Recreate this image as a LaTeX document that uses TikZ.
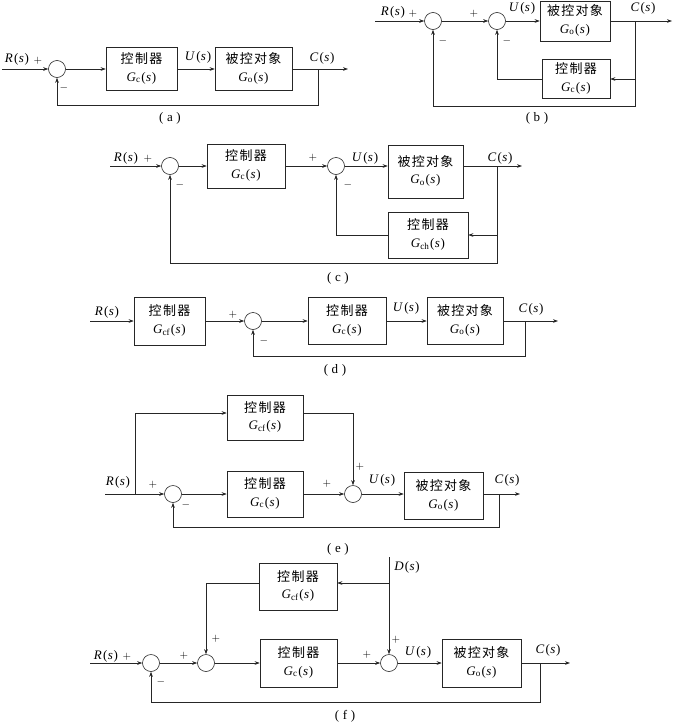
\documentclass[tikz,border=0pt]{standalone}
\usepackage{fontspec}
\setmainfont{Liberation Serif}
\newfontfamily\cjk[LetterSpace=10]{Noto Sans CJK SC}
\usetikzlibrary{arrows.meta,calc}
\renewcommand{\arraystretch}{1.15}
\newcommand{\fx}[2]{\textit{#1}\textsubscript{#2}\kern0.8pt(\kern0.3pt\textit{s}\kern0.8pt)}
\newcommand{\bt}[2]{\begin{tabular}{@{}c@{}}{\cjk\fontsize{13}{16}\selectfont #1}\\ #2\end{tabular}}
\tikzset{
  arr/.style={-{Stealth[length=5pt,width=3.6pt]}},
  blk/.style={draw, inner sep=0pt, font=\fontsize{13}{15}\selectfont},
  sum/.style={draw, circle, minimum size=17pt, inner sep=0pt},
  lb/.style={inner sep=0pt, font=\fontsize{13}{15}\selectfont},
  sg/.style={inner sep=0pt, font=\fontsize{11}{12}\selectfont},
  capt/.style={inner sep=0pt, font=\fontsize{13}{15}\selectfont}
}
\begin{document}
\begin{tikzpicture}[x=1pt,y=-1pt,line width=0.6pt,draw=black!85]
\useasboundingbox (0,0) rectangle (675,723);
% ---------- (a)
\node[sum] (Sa) at (57,69) {};
\coordinate (ina) at (2,69);
\draw[arr] (ina) -- (Sa);
\node[lb] at (17,59) {\fx{R}{}};
\node[sg] at (38,61) {$+$};
\node[sg] at (64,88) {$-$};
\node[blk, minimum width=71pt, minimum height=43pt] (Ca) at (141.5,69) {\bt{控制器}{\fx{G}{c}}};
\node[blk, minimum width=77pt, minimum height=43pt] (Oa) at (253.5,69) {\bt{被控对象}{\fx{G}{o}}};
\draw[arr] (Sa) -- (Ca);
\draw[arr] (Ca) -- (Oa);
\coordinate (outa) at (348,69);
\draw[arr] (Oa) -- (outa);
\coordinate (ba) at (318,69);
\draw[arr] (ba) -- (318,105) -| (Sa);
\node[lb] at (198,57) {\fx{U}{}};
\node[lb] at (322,58) {\fx{C}{}};
\node[capt] at (170,118) {(\;a\;)};
% ---------- (b)
\node[sum] (Sb1) at (433,21) {};
\node[sum] (Sb2) at (497,21) {};
\coordinate (inb) at (375,21);
\draw[arr] (inb) -- (Sb1);
\node[lb] at (393,12) {\fx{R}{}};
\node[sg] at (413,14) {$+$};
\draw[arr] (Sb1) -- (Sb2);
\node[sg] at (474,14) {$+$};
\node[blk, minimum width=70pt, minimum height=40pt] (Ob) at (575,21) {\bt{被控对象}{\fx{G}{o}}};
\draw[arr] (Sb2) -- (Ob);
\node[lb] at (522,8) {\fx{U}{}};
\coordinate (outb) at (672,21);
\draw[arr] (Ob) -- (outb);
\node[lb] at (643,8) {\fx{C}{}};
\node[blk, minimum width=68pt, minimum height=39pt] (Cb) at (576,79) {\bt{控制器}{\fx{G}{c}}};
\coordinate (bb) at (635,21);
\draw[arr] (bb) |- (Cb);
\draw[arr] (Cb) -| (Sb2);
\draw[arr] (bb) -- (635,106) -| (Sb1);
\node[sg] at (443,41) {$-$};
\node[sg] at (507,41) {$-$};
\node[capt] at (537,118) {(\;b\;)};
% ---------- (c)
\node[sum] (Sc1) at (170,166) {};
\node[sum] (Sc2) at (336,166) {};
\coordinate (inc) at (110,166);
\draw[arr] (inc) -- (Sc1);
\node[lb] at (126,158) {\fx{R}{}};
\node[sg] at (148,159) {$+$};
\node[blk, minimum width=78pt, minimum height=44pt] (Cc) at (246,166) {\bt{控制器}{\fx{G}{c}}};
\draw[arr] (Sc1) -- (Cc);
\draw[arr] (Cc) -- (Sc2);
\node[sg] at (313,158) {$+$};
\node[blk, minimum width=75pt, minimum height=53pt] (Oc) at (425.5,171.5) {\raisebox{5pt}{\bt{被控对象}{\fx{G}{o}}}};
\draw[arr] (Sc2) -- (Sc2 -| Oc.west);
\node[lb] at (365,158) {\fx{U}{}};
\coordinate (bc) at (497,166);
\coordinate (outc) at (522,166);
\draw[arr] (Oc.east |- bc) -- (outc);
\node[lb] at (500,158) {\fx{C}{}};
\node[blk, minimum width=80pt, minimum height=46pt] (Hc) at (428,235) {\bt{控制器}{\fx{G}{ch}}};
\draw[arr] (bc) |- (Hc);
\draw[arr] (Hc) -| (Sc2);
\draw[arr] (bc) -- (497,263) -| (Sc1);
\node[sg] at (180,185) {$-$};
\node[sg] at (348,185) {$-$};
\node[capt] at (338,278) {(\;c\;)};
% ---------- (d)
\coordinate (ind) at (90,321);
\node[blk, minimum width=71pt, minimum height=48pt] (Fd) at (169.5,321) {\bt{控制器}{\fx{G}{cf}}};
\draw[arr] (ind) -- (Fd);
\node[lb] at (107,312) {\fx{R}{}};
\node[sum] (Sd) at (253,321) {};
\draw[arr] (Fd) -- (Sd);
\node[sg] at (233,315) {$+$};
\node[sg] at (264,341) {$-$};
\node[blk, minimum width=78pt, minimum height=47pt] (Cd) at (347,321) {\bt{控制器}{\fx{G}{c}}};
\draw[arr] (Sd) -- (Cd);
\node[blk, minimum width=76pt, minimum height=47pt] (Od) at (465,321) {\bt{被控对象}{\fx{G}{o}}};
\draw[arr] (Cd) -- (Od);
\node[lb] at (406,308) {\fx{U}{}};
\coordinate (outd) at (558,321);
\draw[arr] (Od) -- (outd);
\node[lb] at (531,309) {\fx{C}{}};
\coordinate (bd) at (525,321);
\draw[arr] (bd) -- (525,356) -| (Sd);
\node[capt] at (335,370) {(\;d\;)};
% ---------- (e)
\coordinate (ine) at (105,494);
\node[sum] (Se1) at (173,494) {};
\draw[arr] (ine) -- (Se1);
\node[lb] at (118,482) {\fx{R}{}};
\node[sg] at (153,485) {$+$};
\node[sg] at (186,505) {$-$};
\node[blk, minimum width=76pt, minimum height=45pt] (Fe) at (265,417.5) {\bt{控制器}{\fx{G}{cf}}};
\coordinate (be) at (135,494);
\coordinate (te) at (135,413);
\draw[arr] (be) -- (te) -- (te -| Fe.west);
\node[blk, minimum width=76pt, minimum height=46pt] (Ce) at (265,494) {\bt{控制器}{\fx{G}{c}}};
\draw[arr] (Se1) -- (Ce);
\node[sum] (Se2) at (353,494) {};
\draw[arr] (te -| Fe.east) -| (Se2);
\draw[arr] (Ce) -- (Se2);
\node[sg] at (327,484) {$+$};
\node[sg] at (360,467) {$+$};
\node[blk, minimum width=79pt, minimum height=47pt] (Oe) at (443.5,496) {\raisebox{2pt}{\bt{被控对象}{\fx{G}{o}}}};
\draw[arr] (Se2) -- (Se2 -| Oe.west);
\node[lb] at (382,480) {\fx{U}{}};
\coordinate (bre) at (499,494);
\coordinate (oute) at (520,494);
\draw[arr] (Oe.east |- bre) -- (oute);
\node[lb] at (507,480) {\fx{C}{}};
\draw[arr] (bre) -- (499,527) -| (Se1);
\node[capt] at (338,549) {(\;e\;)};
% ---------- (f)
\coordinate (inf) at (90,663);
\node[sum] (Sf1) at (151,663) {};
\draw[arr] (inf) -- (Sf1);
\node[lb] at (106,656) {\fx{R}{}};
\node[sg] at (127,657) {$+$};
\node[sg] at (161,682) {$-$};
\node[sum] (Sf2) at (206,663) {};
\draw[arr] (Sf1) -- (Sf2);
\node[sg] at (184,656) {$+$};
\node[sg] at (216,639) {$+$};
\node[blk, minimum width=78pt, minimum height=47pt] (Ff) at (298,586.5) {\bt{控制器}{\fx{G}{cf}}};
\coordinate (Dtop) at (389,557);
\node[sum] (Sf3) at (389,663) {};
\draw[arr] (Dtop) -- (Sf3);
\node[lb] at (407,567) {\fx{D}{}};
\coordinate (bf) at (389,583);
\draw[arr] (bf) -- (bf -| Ff.east);
\draw[arr] (bf -| Ff.west) -| (Sf2);
\node[blk, minimum width=77pt, minimum height=48pt] (Cf) at (298.5,663) {\bt{控制器}{\fx{G}{c}}};
\draw[arr] (Sf2) -- (Cf);
\draw[arr] (Cf) -- (Sf3);
\node[sg] at (367,655) {$+$};
\node[sg] at (396,640) {$+$};
\node[blk, minimum width=79pt, minimum height=48pt] (Of) at (481.5,663) {\bt{被控对象}{\fx{G}{o}}};
\draw[arr] (Sf3) -- (Of);
\node[lb] at (418,652) {\fx{U}{}};
\coordinate (outf) at (570,663);
\draw[arr] (Of) -- (outf);
\node[lb] at (548,650) {\fx{C}{}};
\coordinate (brf) at (540,663);
\draw[arr] (brf) -- (540,702) -| (Sf1);
\node[capt] at (345,716) {(\;f\;)};
\end{tikzpicture}
\end{document}
